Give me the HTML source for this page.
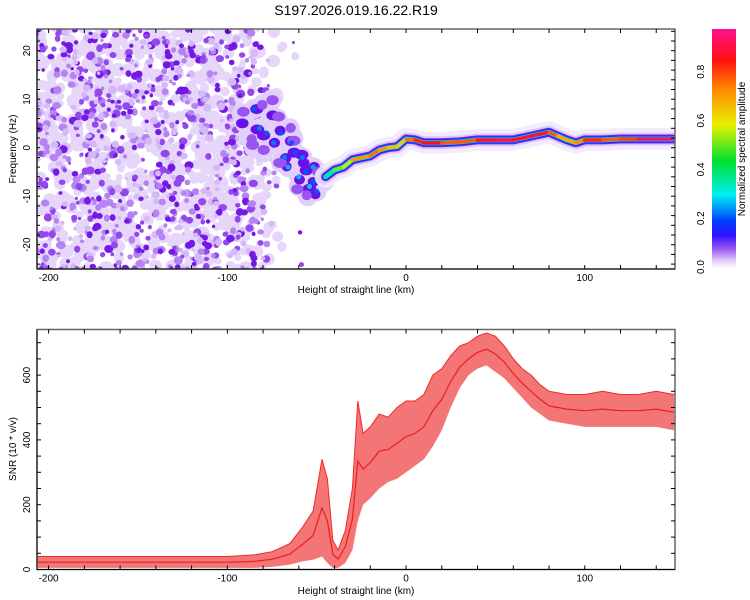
<!DOCTYPE html>
<html><head><meta charset="utf-8">
<style>
html,body{margin:0;padding:0;background:#fff;}
svg{display:block;font-family:"Liberation Sans",sans-serif;}
</style></head>
<body>
<svg id="c" width="750" height="600" viewBox="0 0 750 600">
<defs>
<linearGradient id="cb" x1="0" y1="1" x2="0" y2="0">
<stop offset="0" stop-color="#ffffff"/>
<stop offset="0.03" stop-color="#e8d8fb"/>
<stop offset="0.08" stop-color="#a060f0"/>
<stop offset="0.14" stop-color="#3010ff"/>
<stop offset="0.2" stop-color="#0040ff"/>
<stop offset="0.31" stop-color="#00f0f0"/>
<stop offset="0.45" stop-color="#00e030"/>
<stop offset="0.6" stop-color="#e8f000"/>
<stop offset="0.75" stop-color="#ff8800"/>
<stop offset="0.87" stop-color="#ff1010"/>
<stop offset="1" stop-color="#ff1090"/>
</linearGradient>
<clipPath id="clipTop"><rect x="37" y="29" width="638" height="240"/></clipPath>
<clipPath id="clipBot"><rect x="37" y="329.5" width="638" height="240"/></clipPath>
</defs>
<text x="356" y="15" text-anchor="middle" font-size="14">S197.2026.019.16.22.R19</text>
<g id="topPlot" clip-path="url(#clipTop)"></g>
<g id="botPlot" clip-path="url(#clipBot)"></g>
<g id="axesG"></g>
<rect x="712" y="29" width="24" height="240" fill="url(#cb)"/>
<g id="cbaxis"></g>
<text transform="translate(745,149) rotate(-90)" text-anchor="middle" font-size="10">Normalized spectral amplitude</text>
<text x="356" y="293" text-anchor="middle" font-size="10">Height of straight line (km)</text>
<text x="356" y="594" text-anchor="middle" font-size="10">Height of straight line (km)</text>
<text transform="translate(16,149) rotate(-90)" text-anchor="middle" font-size="10">Frequency (Hz)</text>
<text transform="translate(16,449) rotate(-90)" text-anchor="middle" font-size="10">SNR (10 * v/v)</text>
</svg>
<script>
// ridge track data (coherent part)
const ridgeKm  = [-45,-40,-35,-30,-20,-15,-10,-5,0,5,10,20,30,40,50,60,70,80,85,90,95,100,110,120,130,140,150];
const ridgeHz  = [-6,-4.6,-4,-2.5,-1.7,-0.5,0,0.2,1.8,1.6,1,1,1.2,1.6,1.6,1.6,2.4,3.2,2.4,1.6,1,1.6,1.6,1.8,1.8,1.8,1.8];
const ridgeAmp = [0.3,0.45,0.6,0.55,0.9,0.65,0.8,0.55,0.75,0.8,0.9,0.85,0.75,0.85,0.95,0.9,0.9,0.9,0.7,0.7,0.7,0.8,0.9,0.7,0.95,0.95,0.95];
// scattered early cluster data
const clusterKm  = [-90,-88,-85,-82,-80,-78,-76,-74,-72,-70,-68,-66,-64,-62,-60,-58,-56,-54,-52,-50,-48,-46,-85,-80,-75,-65,-60,-55,-92,-70,-63,-57,-52,-49];
const clusterHz  = [5,2,8,4,9,3,7,1,6,3,-2,-4,1,-1,-6,-2,-5,-8,-4,-9,-6,-7,0,-1,10,4,-8,-10,7,-3,2,-3,-7,-5];
const clusterAmp = [0.18,0.15,0.2,0.22,0.15,0.2,0.18,0.22,0.15,0.2,0.22,0.25,0.2,0.2,0.25,0.22,0.2,0.26,0.24,0.2,0.22,0.2,0.12,0.12,0.12,0.12,0.13,0.12,0.14,0.16,0.17,0.18,0.2,0.16];
// SNR envelope data
const snrKm   = [-206,-180,-150,-120,-100,-85,-75,-65,-58,-52,-47,-44,-41,-38,-34,-30,-27,-24,-20,-15,-10,-5,0,5,10,15,20,25,30,35,40,45,50,55,60,65,70,75,80,90,100,110,120,130,140,150];
const snrLow  = [5,5,5,5,5,5,8,15,25,30,40,20,5,5,20,60,150,200,220,250,270,280,300,320,340,380,430,500,560,600,620,630,610,590,560,530,500,480,460,450,440,440,440,440,440,430];
const snrHigh = [40,40,40,40,40,45,55,80,130,180,340,280,90,60,120,250,520,420,440,480,470,500,520,520,540,600,620,660,690,700,720,730,720,690,650,620,600,570,550,540,540,550,540,540,550,540];
const xTicks = [-200,-100,0,100];
const topYTicks = [-20,-10,0,10,20];
const botYTicks = [0,200,400,600];
const cbTicks = [0,0.2,0.4,0.6,0.8];

const NS="http://www.w3.org/2000/svg";
const X = km => 37 + (km+206.5)*(638/357);
const YT = f => 147.7 - f*4.85;
const YB = v => 569.5 - v*0.324;
const YC = a => 267 - a*244;
function mk(tag, attrs, parent){const e=document.createElementNS(NS,tag);for(const k in attrs)e.setAttribute(k,attrs[k]);parent.appendChild(e);return e;}
const topG=document.getElementById('topPlot'), botG=document.getElementById('botPlot'), axesG=document.getElementById('axesG'), cba=document.getElementById('cbaxis');

function ampColor(a){
  const st=[[0,[255,255,255]],[0.05,[220,195,250]],[0.1,[150,70,240]],[0.16,[40,10,255]],[0.22,[0,70,255]],[0.31,[0,240,240]],[0.45,[0,224,48]],[0.6,[232,240,0]],[0.75,[255,136,0]],[0.87,[255,16,16]],[1,[255,16,144]]];
  for(let i=1;i<st.length;i++){if(a<=st[i][0]){const t=(a-st[i-1][0])/(st[i][0]-st[i-1][0]);const c=st[i-1][1].map((v,j)=>Math.round(v+(st[i][1][j]-v)*t));return `rgb(${c})`;}}
  return 'rgb(255,16,144)';
}

// background noise texture (seeded)
let seed=12345;function rnd(){seed=(seed*1664525+1013904223)>>>0;return seed/4294967296;}
const noise=mk('g',{},topG);


function dens(km){if(km<-95)return 1;if(km<-68)return 1-(km+95)/27*0.92;return 0.03;}
for(let pass=0;pass<2;pass++){
  const n=pass===0?1000:1100;
  for(let i=0;i<n;i++){
    const km=-207+rnd()*150, f=-26+rnd()*52;
    const p=dens(km);
    if(rnd()>p)continue;
    let r,col;
    if(pass===0){r=3+rnd()*4;col='#e6d6fa';}
    else{const q=rnd();r=1.6+rnd()*2.5;col=q<0.25?'#d4b8f7':q<0.5?'#b584f2':q<0.78?'#9348ec':'#7418e6';}
    mk('ellipse',{cx:X(km).toFixed(1),cy:YT(f).toFixed(1),rx:(r*(0.85+rnd()*0.4)).toFixed(1),ry:r.toFixed(1),fill:col},noise);
  }
}
// early cluster
const cl=mk('g',{},topG);


clusterKm.forEach((k,i)=>{mk('circle',{cx:X(k),cy:YT(clusterHz[i]),r:10,fill:'#e3d0fa'},cl);});
clusterKm.forEach((k,i)=>{mk('ellipse',{cx:X(k)+(rnd()-0.5)*6,cy:YT(clusterHz[i])+(rnd()-0.5)*6,rx:5+rnd()*2,ry:5,fill:clusterAmp[i]>0.17?'#6a10e8':'#9a55f0'},cl);});
clusterKm.forEach((k,i)=>{if(clusterAmp[i]>0.19){const c=mk('circle',{cx:X(k),cy:YT(clusterHz[i]),r:2.5,fill:ampColor(clusterAmp[i]+0.03)},cl);
  
  }});
// ridge halo and core
const ridge=mk('g',{},topG);


const pts=ridgeKm.map((k,i)=>X(k).toFixed(1)+','+YT(ridgeHz[i]).toFixed(1)).join(' ');
const layers=[[22,'#f2eafc',0.9],[13,'#dcc8f8',1],[9,'#7a25ec',1],[7,'#2020ff',1],[5,'#00d0f0',1]];
layers.forEach(L=>{mk('polyline',{points:pts,fill:'none',stroke:L[1],'stroke-width':L[0],'stroke-linejoin':'round','stroke-linecap':'round',opacity:L[2]},ridge);});
for(let i=0;i<ridgeKm.length-1;i++){
  const a=(ridgeAmp[i]+ridgeAmp[i+1])/2;
  const seg=mk('line',{x1:X(ridgeKm[i]),y1:YT(ridgeHz[i]),x2:X(ridgeKm[i+1]),y2:YT(ridgeHz[i+1]),stroke:ampColor(a),'stroke-width':3.5,'stroke-linecap':'round'},ridge);
  
  
}

// SNR band
let d='M'+snrKm.map((k,i)=>X(k).toFixed(1)+','+YB(snrHigh[i]).toFixed(1)).join(' L');
for(let i=snrKm.length-1;i>=0;i--)d+=' L'+X(snrKm[i]).toFixed(1)+','+YB(snrLow[i]).toFixed(1);
const band=mk('path',{d:d+'Z',fill:'#f03a3a',opacity:0.7},botG);


const hi=mk('polyline',{points:snrKm.map((k,i)=>X(k).toFixed(1)+','+YB(snrHigh[i]).toFixed(1)).join(' '),fill:'none',stroke:'#ee2a2a','stroke-width':1},botG);


const mid=mk('polyline',{points:snrKm.map((k,i)=>X(k).toFixed(1)+','+YB((snrLow[i]+snrHigh[i])/2).toFixed(1)).join(' '),fill:'none',stroke:'#e82020','stroke-width':1.2},botG);



// axes frames
[[29,269],[329.5,569.5]].forEach(([y0,y1],pi)=>{
  const fr=mk('rect',{x:37,y:y0,width:638,height:y1-y0,fill:'none',stroke:'#666','stroke-width':1.5},axesG);
  
  
  mk('line',{x1:37,y1:y0,x2:37,y2:y1,stroke:'#000','stroke-width':1},axesG);
  mk('line',{x1:37,y1:y1,x2:675,y2:y1,stroke:'#000','stroke-width':1},axesG);
  for(let k=-200;k<=150;k+=20){const x=X(k);mk('line',{x1:x,y1:y0,x2:x,y2:y0+4,stroke:'#000'},axesG);mk('line',{x1:x,y1:y1,x2:x,y2:y1-4,stroke:'#000'},axesG);}
  xTicks.forEach(k=>{const t=mk('text',{x:X(k),y:y1+12,'text-anchor':'middle','font-size':10},axesG);t.textContent=k;
    
    });
});
for(let f=-24;f<=24;f+=2){const y=YT(f);mk('line',{x1:37,y1:y,x2:40,y2:y,stroke:'#000'},axesG);mk('line',{x1:675,y1:y,x2:671,y2:y,stroke:'#000'},axesG);}
topYTicks.forEach(f=>{const y=YT(f);const t=mk('text',{transform:`translate(30,${y}) rotate(-90)`,'text-anchor':'middle','font-size':10},axesG);t.textContent=f;
  
  });
for(let v=0;v<=700;v+=50){const y=YB(v);mk('line',{x1:37,y1:y,x2:41,y2:y,stroke:'#000'},axesG);mk('line',{x1:675,y1:y,x2:671,y2:y,stroke:'#000'},axesG);}
botYTicks.forEach(v=>{const y=YB(v);const t=mk('text',{transform:`translate(30,${y}) rotate(-90)`,'text-anchor':'middle','font-size':10},axesG);t.textContent=v;
  
  });
cbTicks.forEach(a=>{const y=YC(a);const t=mk('text',{transform:`translate(704,${y}) rotate(-90)`,'text-anchor':'middle','font-size':10},cba);t.textContent=a.toFixed(1);
  
  });
</script>
</body></html>
